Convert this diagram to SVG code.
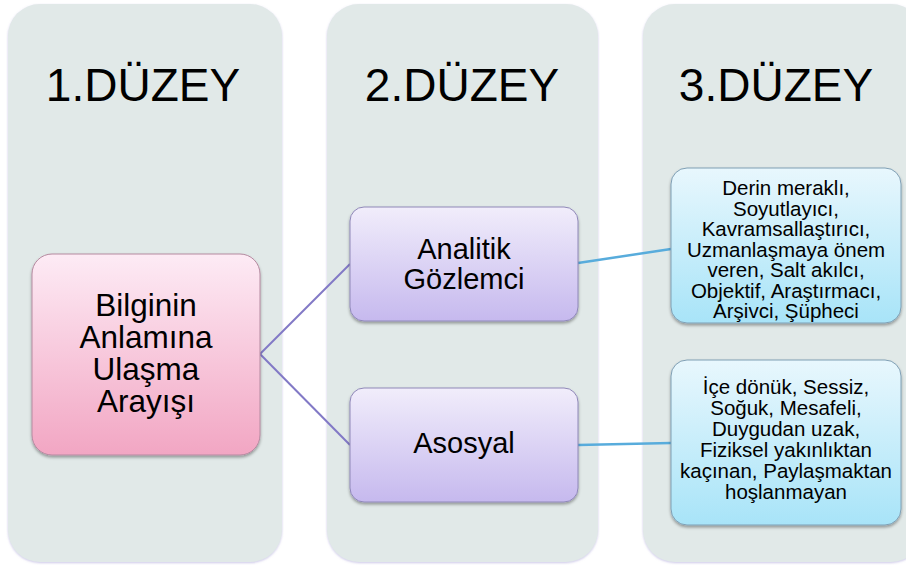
<svg xmlns="http://www.w3.org/2000/svg" width="906" height="567" viewBox="0 0 906 567">
<defs>
<linearGradient id="gPink" x1="0" y1="0" x2="0" y2="1"><stop offset="0" stop-color="#fdebf5"/><stop offset="1" stop-color="#f2a6c3"/></linearGradient>
<linearGradient id="gPurple" x1="0" y1="0" x2="0" y2="1"><stop offset="0" stop-color="#f1edfb"/><stop offset="1" stop-color="#c6b9ee"/></linearGradient>
<linearGradient id="gBlue" x1="0" y1="0" x2="0" y2="1"><stop offset="0" stop-color="#e8f7fd"/><stop offset="1" stop-color="#a8e4f8"/></linearGradient>
<filter id="sh" x="-10%" y="-10%" width="120%" height="125%"><feDropShadow dx="0" dy="2" stdDeviation="1.5" flood-color="#000" flood-opacity="0.35"/></filter>
<filter id="shc" x="-10%" y="-10%" width="120%" height="120%"><feDropShadow dx="0" dy="1" stdDeviation="1" flood-color="#9a90d0" flood-opacity="0.5"/></filter>
</defs>
<style>
.col{fill:#e1e9e8;filter:url(#shc)}
.hd{font-family:"Liberation Sans",Arial,sans-serif;font-size:46px;fill:#000;text-anchor:middle}
.t{font-family:"Liberation Sans",Arial,sans-serif;fill:#000;text-anchor:middle}
.big{font-size:29px}
.pkt{font-size:31.5px}
.sm{font-size:20.5px}
.pk{fill:url(#gPink);stroke:#b58aa0;stroke-width:1;filter:url(#sh)}
.pu{fill:url(#gPurple);stroke:#8f88b8;stroke-width:1;filter:url(#sh)}
.bl{fill:url(#gBlue);stroke:#7f9fb4;stroke-width:1;filter:url(#sh)}
.c1{stroke:#8279c6;stroke-width:2;fill:none}
.c2{stroke:#58acdc;stroke-width:2.5;fill:none}
</style>
<rect width="906" height="567" fill="#ffffff"/>
<g id="columns">
<rect class="col" x="8" y="4" width="274" height="558" rx="32"/>
<rect class="col" x="327" y="4" width="271" height="558" rx="32"/>
<rect class="col" x="643" y="4" width="280" height="558" rx="32"/>
<text class="hd" x="143" y="101">1.DÜZEY</text>
<text class="hd" x="462" y="101">2.DÜZEY</text>
<text class="hd" x="776" y="101">3.DÜZEY</text>
</g>
<g id="connectors">
<path class="c1" d="M260 354 L350 264"/>
<path class="c1" d="M260 354 L350 445"/>
<path class="c2" d="M578 263 L671 249"/>
<path class="c2" d="M578 445 L671 443"/>
</g>
<g id="node-bilgi">
<rect class="pk" x="32" y="254" width="228" height="201" rx="20"/>
<text class="t pkt" x="146"><tspan x="146" y="316">Bilginin</tspan><tspan x="146" y="348">Anlamına</tspan><tspan x="146" y="380">Ulaşma</tspan><tspan x="146" y="412">Arayışı</tspan></text>
</g>
<g id="node-analitik">
<rect class="pu" x="350" y="207" width="228" height="114" rx="14"/>
<text class="t big" x="464"><tspan x="464" y="259">Analitik</tspan><tspan x="464" y="289">Gözlemci</tspan></text>
</g>
<g id="node-asosyal">
<rect class="pu" x="350" y="388" width="228" height="114" rx="14"/>
<text class="t big" x="464" y="453">Asosyal</text>
</g>
<g id="node-analitik-desc">
<rect class="bl" x="671" y="168" width="230" height="155" rx="16"/>
<text class="t sm" x="786"><tspan x="786" y="195">Derin meraklı,</tspan><tspan x="786" y="215.5">Soyutlayıcı,</tspan><tspan x="786" y="236">Kavramsallaştırıcı,</tspan><tspan x="786" y="256.5">Uzmanlaşmaya önem</tspan><tspan x="786" y="277">veren, Salt akılcı,</tspan><tspan x="786" y="297.5">Objektif, Araştırmacı,</tspan><tspan x="786" y="318">Arşivci, Şüpheci</tspan></text>
</g>
<g id="node-asosyal-desc">
<rect class="bl" x="671" y="360" width="230" height="165" rx="16"/>
<text class="t sm" x="786"><tspan x="786" y="394">İçe dönük, Sessiz,</tspan><tspan x="786" y="415">Soğuk, Mesafeli,</tspan><tspan x="786" y="436">Duygudan uzak,</tspan><tspan x="786" y="457">Fiziksel yakınlıktan</tspan><tspan x="786" y="478">kaçınan, Paylaşmaktan</tspan><tspan x="786" y="499">hoşlanmayan</tspan></text>
</g>
</svg>
